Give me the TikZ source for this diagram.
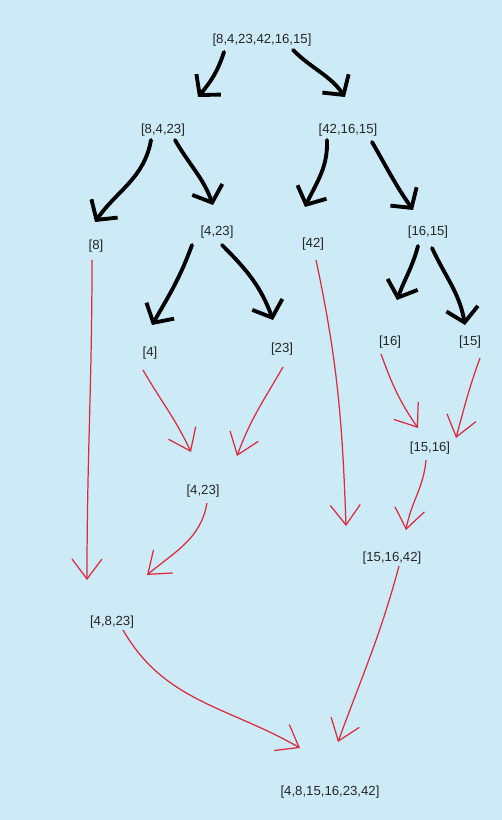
\documentclass[tikz,border=0pt]{standalone}
\usepackage{fontspec}
\setmainfont{Liberation Sans}
\usepackage{xcolor}
\usetikzlibrary{arrows.meta, calc}

\definecolor{paper}{RGB}{204,235,246}
\definecolor{mergered}{RGB}{222,40,60}

\begin{document}
\begin{tikzpicture}[
        x=0.02cm, y=-0.02cm,
        item/.style={inner sep=0pt, font=\fontsize{7.5}{9}\selectfont, text=black!85},
        split/.style={line width=2.2pt, line cap=round, -{Straight Barb[length=2.8mm, width=6.4mm, line width=2.2pt]}},
        merge/.style={mergered, line width=0.7pt, -{Straight Barb[length=4mm, width=6mm]}}
    ]

    % --- BACKGROUND ---
    \fill[paper] (0,0) rectangle (502,820);
    \useasboundingbox (0,0) rectangle (502,820);

    % --- NODES ---
    \node (root) [item] at (262,40) {[8,4,23,42,16,15]};
    \node (left_half) [item] at (163,130) {[8,4,23]};
    \node (right_half) [item] at (348,130) {[42,16,15]};
    \node (one_8) [item] at (96,246) {[8]};
    \node (split_4_23) [item] at (217,232) {[4,23]};
    \node (one_42) [item] at (313,244) {[42]};
    \node (split_16_15) [item] at (428,232) {[16,15]};
    \node (one_4) [item] at (150,353) {[4]};
    \node (one_23) [item] at (282,349) {[23]};
    \node (one_16) [item] at (390,342) {[16]};
    \node (one_15) [item] at (470,342) {[15]};

    % merged lists
    \node (merged_15_16) [item] at (430,448) {[15,16]};
    \node (merged_4_23) [item] at (203,491) {[4,23]};
    \node (merged_right) [item] at (392,558) {[15,16,42]};
    \node (merged_left) [item] at (112,622) {[4,8,23]};
    \node (sorted) [item] at (330,792) {[4,8,15,16,23,42]};

    % --- SPLIT ARROWS ---
    \draw [split] ($(root)+(-38,12)$) to[out=-108, in=50] ($(left_half)+(35,-33)$);
    \draw [split] ($(root)+(31,10)$) to[out=-45, in=125] ($(right_half)+(-3,-33)$);
    \draw [split] ($(left_half)+(-12,10)$) to[out=-100, in=55] ($(one_8)+(-1,-24)$);
    \draw [split] ($(left_half)+(12,10)$) to[out=-60, in=110] ($(split_4_23)+(-4,-27)$);
    \draw [split] ($(right_half)+(-21,10)$) to[out=-88, in=65] ($(one_42)+(-8,-37)$);
    \draw [split] ($(right_half)+(24,12)$) to[out=-60, in=125] ($(split_16_15)+(-15,-22)$);
    \draw [split] ($(split_4_23)+(-25,13)$) to[out=-110, in=60] ($(one_4)+(2,-28)$);
    \draw [split] ($(split_4_23)+(5,13)$) to[out=-45, in=110] ($(one_23)+(-9,-29)$);
    \draw [split] ($(split_16_15)+(-10,14)$) to[out=-105, in=70] ($(one_16)+(7,-42)$);
    \draw [split] ($(split_16_15)+(4,16)$) to[out=-65, in=100] ($(one_15)+(-5,-17)$);

    % --- MERGE ARROWS ---
    \draw [merge] ($(one_8)+(-4,14)$) to[out=-90, in=90] ($(merged_left)+(-25,-42)$);
    \draw [merge] ($(one_4)+(-7,17)$) to[out=-60, in=115] ($(merged_4_23)+(-12,-39)$);
    \draw [merge] ($(one_23)+(1,18)$) to[out=-120, in=70] ($(merged_4_23)+(34,-35)$);
    \draw [merge] ($(one_16)+(-9,12)$) to[out=-70, in=125] ($(merged_15_16)+(-12,-20)$);
    \draw [merge] ($(one_15)+(10,16)$) to[out=-110, in=75] ($(merged_15_16)+(26,-10)$);
    \draw [merge] ($(one_42)+(3,16)$) to[out=-78, in=92] ($(merged_right)+(-46,-32)$);
    \draw [merge] ($(merged_15_16)+(-4,12)$) to[out=-95, in=80] ($(merged_right)+(14,-28)$);
    \draw [merge] ($(merged_4_23)+(4,12)$) to[out=-100, in=40] ($(merged_left)+(35,-47)$);
    \draw [merge] ($(merged_left)+(11,8)$) to[out=-60, in=150] ($(sorted)+(-30,-44)$);
    \draw [merge] ($(merged_right)+(7,8)$) to[out=-105, in=70] ($(sorted)+(8,-50)$);

    \end{tikzpicture}
\end{document}
